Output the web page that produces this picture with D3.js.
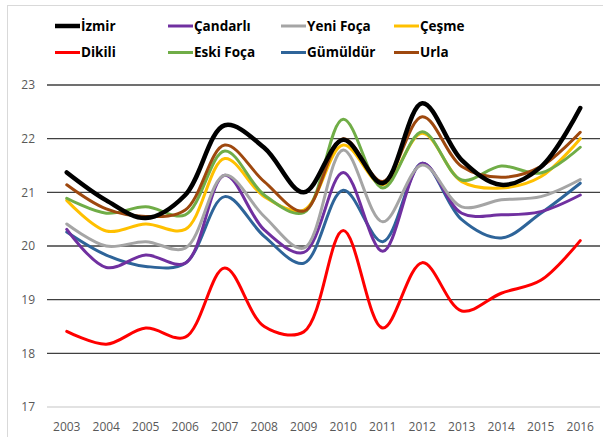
<!DOCTYPE html>
<html>
<head>
<meta charset="utf-8">
<script src="https://cdn.jsdelivr.net/npm/d3@7"></script>
<style>
  body { margin: 0; background: #fff; }
  svg { display: block; font-family: "Open Sans", "Noto Sans", sans-serif; }
</style>
</head>
<body>
<svg id="chart"></svg>
<script>
let years = ["2003","2004","2005","2006","2007","2008","2009","2010","2011","2012","2013","2014","2015","2016"];
let yTicks = [17, 18, 19, 20, 21, 22, 23];

let izmir    = [21.37,20.85,20.52,20.95,22.25,21.83,21.0,21.98,21.17,22.66,21.6,21.14,21.47,22.57];
let candarli = [20.31,19.6,19.83,19.68,21.32,20.3,19.88,21.37,19.9,21.54,20.61,20.58,20.64,20.95];
let yeniFoca = [20.41,20.0,20.08,19.96,21.32,20.55,19.96,21.79,20.45,21.51,20.73,20.86,20.92,21.24];
let cesme    = [20.85,20.28,20.41,20.31,21.63,20.92,20.67,21.88,21.14,22.1,21.2,21.08,21.29,22.0];
let dikili   = [18.41,18.17,18.47,18.3,19.59,18.5,18.4,20.29,18.47,19.69,18.79,19.12,19.36,20.1];
let eskiFoca = [20.89,20.61,20.73,20.58,21.77,20.95,20.62,22.36,21.08,22.13,21.23,21.49,21.36,21.84];
let gumuldur = [20.26,19.83,19.62,19.68,20.92,20.18,19.68,21.04,20.08,21.54,20.49,20.15,20.61,21.17];
let urla     = [21.14,20.69,20.55,20.67,21.88,21.2,20.65,22.0,21.2,22.41,21.48,21.28,21.48,22.12];

let names  = ["İzmir","Çandarlı","Yeni Foça","Çeşme","Dikili","Eski Foça","Gümüldür","Urla"];
let values = [izmir, candarli, yeniFoca, cesme, dikili, eskiFoca, gumuldur, urla];
let colors = ["#000000","#7030a0","#a5a5a5","#ffc000","#ff0000","#70ad47","#2e6499","#9e480e"];

function chartConfig(){
    let width = 603;
    let height = 437;
    let margin = { top: 85, bottom: 30, left: 47, right: 3 };
    let bodyHeight = height - margin.top - margin.bottom;
    let bodyWidth = width - margin.left - margin.right;
    let container = d3.select("#chart");
    container.attr("width", width).attr("height", height);
    return {width, height, margin, bodyHeight, bodyWidth, container};
}

function chartScales(config){
    let {bodyWidth, bodyHeight} = config;
    let xScale = d3.scalePoint().range([0, bodyWidth]).domain(years).padding(0.5);
    let yScale = d3.scaleLinear().range([bodyHeight, 0]).domain([17, 23]);
    return {xScale, yScale};
}

function drawFrame(config){
    config.container.append("rect")
        .attr("x", 7.5).attr("y", 5.5)
        .attr("width", 700).attr("height", 500)
        .attr("fill", "none").attr("stroke", "#d9d9d9");
}

function drawAxes(scales, config){
    let {margin, container, bodyWidth} = config;
    let {xScale, yScale} = scales;
    let body = container.append("g")
        .attr("transform", `translate(${margin.left},${margin.top})`);

    body.selectAll(".grid").data(yTicks).enter().append("line")
        .attr("x1", 0).attr("x2", bodyWidth)
        .attr("y1", d => yScale(d)).attr("y2", d => yScale(d))
        .attr("stroke", d => d === 17 ? "#d9d9d9" : "#404040")
        .attr("stroke-width", 1.3);

    body.selectAll(".ylab").data(yTicks).enter().append("text")
        .attr("x", -12).attr("y", d => yScale(d))
        .attr("dy", "0.35em").attr("text-anchor", "end")
        .attr("font-size", 12).attr("fill", "#595959")
        .text(d => d);

    body.selectAll(".xlab").data(years).enter().append("text")
        .attr("x", d => xScale(d)).attr("y", yScale(17) + 24)
        .attr("text-anchor", "middle")
        .attr("font-size", 12).attr("fill", "#595959")
        .text(d => d);
}

function drawLines(scales, config){
    let {margin, container} = config;
    let {xScale, yScale} = scales;
    let body = container.append("g")
        .attr("transform", `translate(${margin.left},${margin.top})`);
    let line = d3.line()
        .x((d, i) => xScale(years[i]))
        .y(d => yScale(d))
        .curve(d3.curveCatmullRom.alpha(0.5));
    // draw İzmir last so it sits on top, like the original
    let order = [4, 6, 1, 2, 3, 5, 7, 0];
    order.forEach(k => {
        body.append("path")
            .attr("d", line(values[k]))
            .attr("fill", "none")
            .attr("stroke", colors[k])
            .attr("stroke-width", k === 0 ? 4.5 : 3)
            .attr("stroke-linejoin", "round")
            .attr("stroke-linecap", "round");
    });
}

function drawLegend(config){
    let {container} = config;
    let colX = [55, 168, 281, 394];
    let rowY = [26, 52.5];
    names.forEach((name, i) => {
        let x = colX[i % 4];
        let y = rowY[Math.floor(i / 4)];
        let g = container.append("g").attr("transform", `translate(${x},${y})`);
        g.append("line")
            .attr("x1", 0).attr("x2", 25)
            .attr("stroke", colors[i])
            .attr("stroke-width", i === 0 ? 4.5 : 3);
        g.append("text")
            .attr("x", 26).attr("dy", "0.35em")
            .attr("font-size", 13.5).attr("font-weight", "bold")
            .attr("fill", "#000")
            .text(name);
    });
}

let config = chartConfig();
let scales = chartScales(config);
drawFrame(config);
drawAxes(scales, config);
drawLines(scales, config);
drawLegend(config);
</script>
</body>
</html>
